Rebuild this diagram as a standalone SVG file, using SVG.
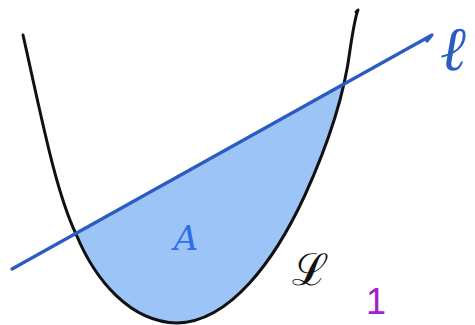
<svg xmlns="http://www.w3.org/2000/svg" width="475" height="325" viewBox="0 0 475 325">
<style>
.curve{fill:none;stroke:#111;stroke-width:3;stroke-linecap:round;stroke-linejoin:round}
.line{fill:none;stroke:#2a5cc2;stroke-width:3.2;stroke-linecap:round;stroke-linejoin:round}
.hand{font-family:"DejaVu Serif","Liberation Serif",serif;font-style:italic}
</style>
<rect width="475" height="325" fill="#fff"/>
<g id="region">
<path d="M76,234 L344.4,81.8 C336.9,115.3 323.75,153.75 305,195 C275,260 230,322 177,323 C130,322 95,280 76,234 Z" fill="#9dc4f7"/>
</g>
<g id="curve">
<path class="curve" d="M23,35 C40,110 55,190 76,234 C95,280 130,322 177,323 C230,322 275,260 305,195 C330,140 345,90 350,50 C353,30 356,15 358,10 L356,12"/>
</g>
<g id="connectors">
<path class="line" d="M12,269 L432,35 L427,41"/>
</g>
<g id="labels">
<text class="hand" x="186" y="250" font-size="34" fill="#2f6fe6" text-anchor="middle">A</text>
<text class="hand" x="453" y="70" font-size="62" fill="#2a5cc2" text-anchor="middle">ℓ</text>
<text x="310" y="285" font-size="44" fill="#111" text-anchor="middle" font-family="DejaVu Serif, serif">ℒ</text>
<text x="376" y="314" font-size="36" fill="#a020d0" text-anchor="middle" font-family="Liberation Sans, sans-serif">1</text>
</g>
</svg>
